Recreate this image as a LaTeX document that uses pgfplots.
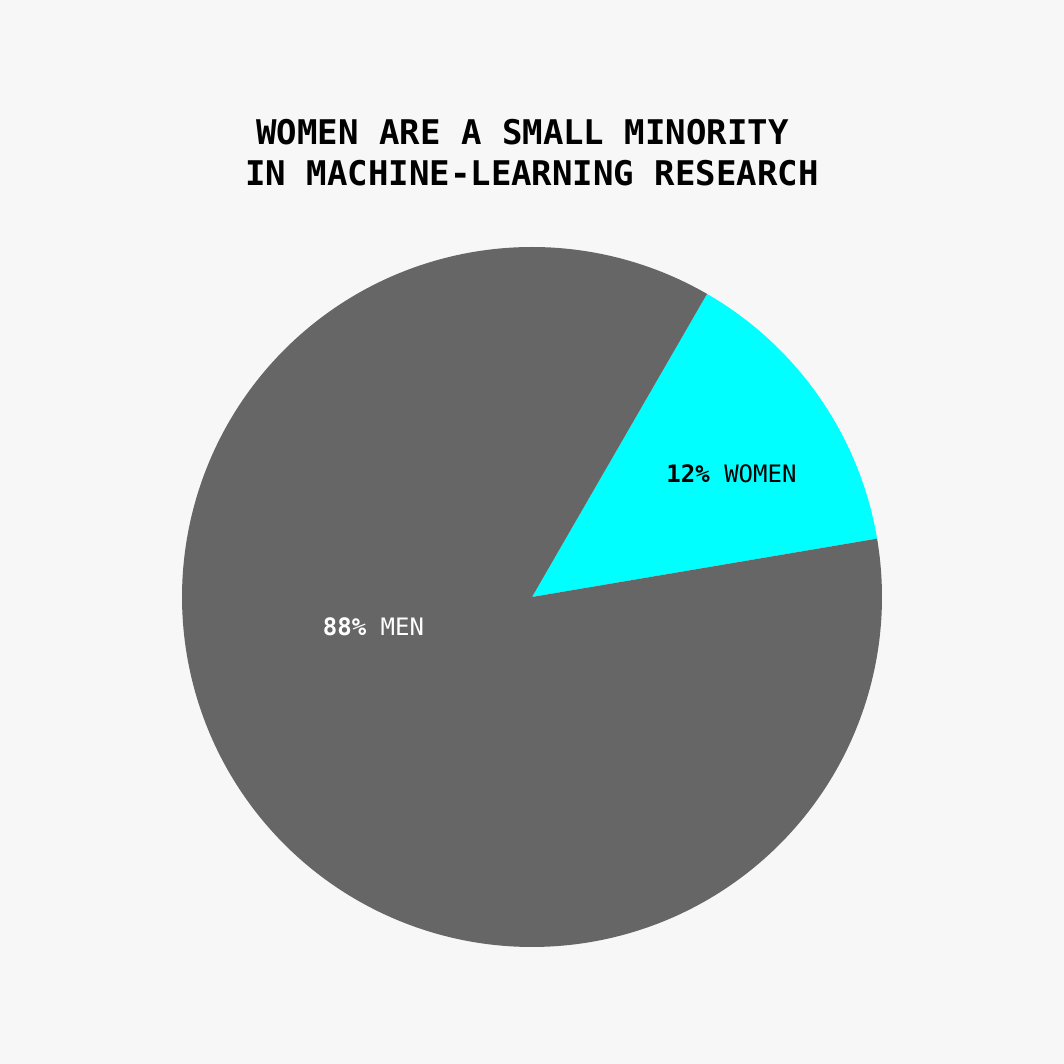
\documentclass[border=0pt]{standalone}
\usepackage{pgfplots}
\pgfplotsset{compat=1.18}
\usepackage{fontspec}
\newfontfamily\dmono{DejaVu Sans Mono}
\definecolor{bgc}{HTML}{F7F7F7}
\definecolor{mengray}{HTML}{666666}
\definecolor{womcyan}{HTML}{00FFFF}
% shares of the circle (percent) and start angle (degrees)
\def\startangle{9.6}
\def\womenshare{14}
\def\menshare{86}
\begin{document}
\begin{tikzpicture}
\fill[bgc] (0,0) rectangle (532pt,532pt);
\begin{axis}[
  at={(266pt,233.5pt)}, anchor=center,
  scale only axis, width=350pt, height=350pt,
  xmin=-1, xmax=1, ymin=-1, ymax=1,
  hide axis, clip=false,
]
\pgfmathsetmacro{\wend}{\startangle+3.6*\womenshare}
\pgfmathsetmacro{\mend}{\wend+3.6*\menshare}
\addplot[fill=womcyan, draw=none, domain=\startangle:\wend, samples=80] ({cos(x)},{sin(x)}) -- (axis cs:0,0) -- cycle;
\addplot[fill=mengray, draw=none, domain=\wend:\mend, samples=300] ({cos(x)},{sin(x)}) -- (axis cs:0,0) -- cycle;
\node[anchor=base, text=black, font={\dmono\fontsize{12}{14}\selectfont}] at (axis cs:0.570,0.326) {\textbf{12\%} WOMEN};
\node[anchor=base, text=white, font={\dmono\fontsize{12}{14}\selectfont}] at (axis cs:-0.453,-0.111) {\textbf{88\%} MEN};
\end{axis}
\node[anchor=base, font={\dmono\bfseries\fontsize{17}{20}\selectfont}] at (261.3pt,459.5pt) {WOMEN ARE A SMALL MINORITY};
\node[anchor=base, font={\dmono\bfseries\fontsize{17}{20}\selectfont}] at (266pt,439pt) {IN MACHINE-LEARNING RESEARCH};
\end{tikzpicture}
\end{document}
